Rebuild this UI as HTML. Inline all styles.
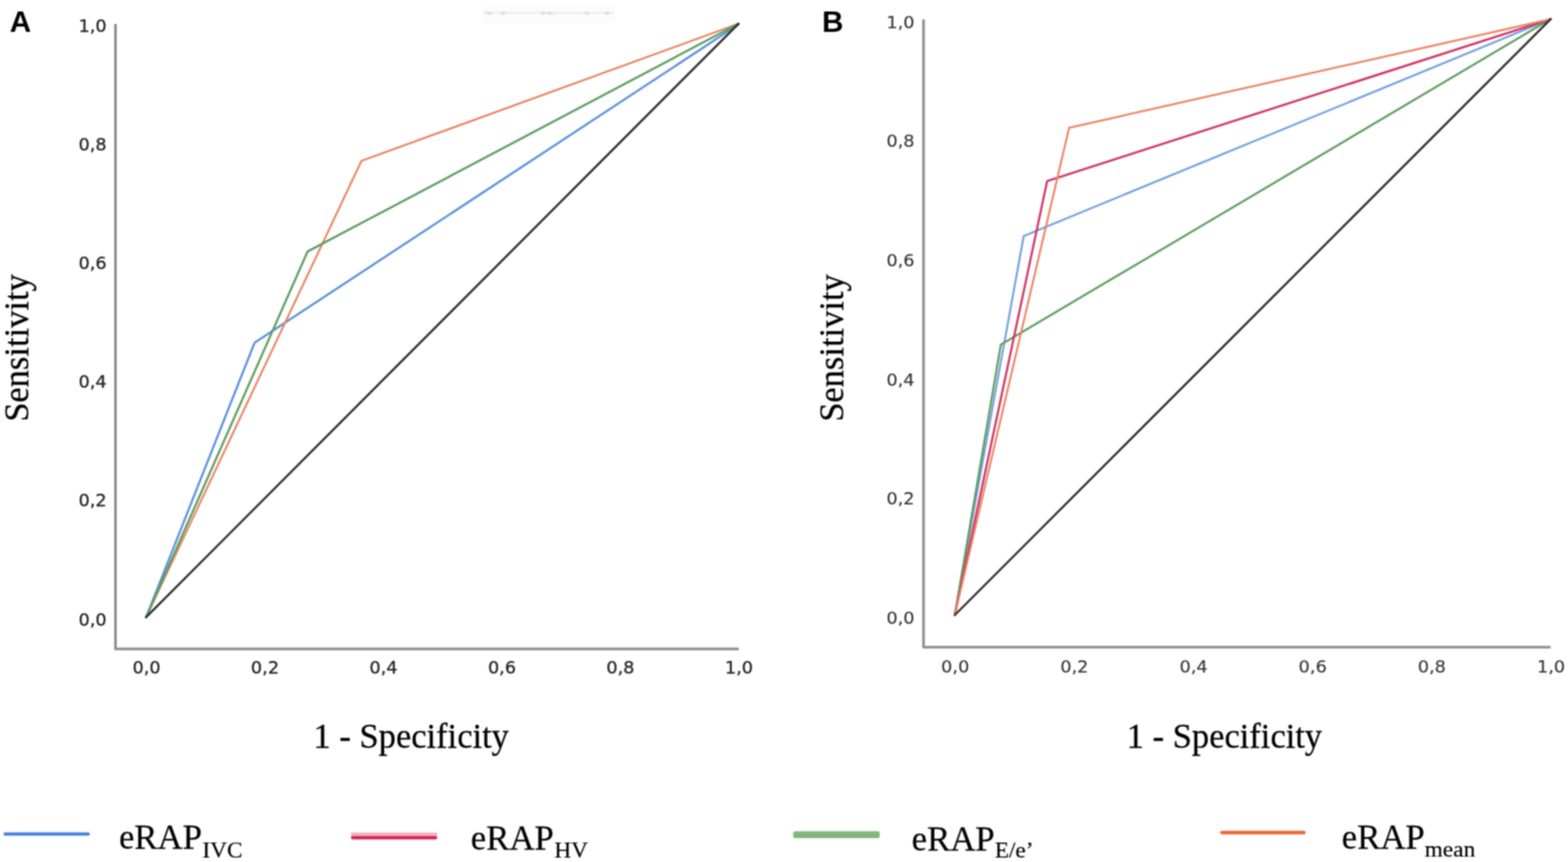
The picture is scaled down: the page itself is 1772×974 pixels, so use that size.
<!DOCTYPE html>
<html><head><meta charset="utf-8"><title>ROC curves</title>
<style>
html,body{margin:0;padding:0;background:#fff;}
body{width:1772px;height:974px;overflow:hidden;position:relative;}
svg{position:absolute;left:0;top:0;display:block;}
.tk{font-family:"DejaVu Sans",sans-serif;font-size:20px;fill:#222222;stroke:#222222;stroke-width:0.3px;}
.tkb{fill:#333;stroke:#333;stroke-width:0.15px;}
.ti{font-family:"Liberation Serif",serif;font-size:40px;fill:#000;stroke:#000;stroke-width:0.3px;}
.lg{font-family:"Liberation Serif",serif;font-size:40.3px;fill:#000;stroke:#000;stroke-width:0.25px;}
.sb{font-family:"Liberation Serif",serif;font-size:25.2px;fill:#000;stroke:#000;stroke-width:0.2px;}
.pl{font-family:"Liberation Sans",sans-serif;font-size:33.5px;font-weight:bold;fill:#000;}
</style></head>
<body>
<svg width="1772" height="974" viewBox="0 0 1772 974">
<defs><filter id="soft" filterUnits="userSpaceOnUse" x="0" y="0" width="1772" height="974" color-interpolation-filters="sRGB"><feConvolveMatrix order="3" kernelMatrix="0.0625 0.125 0.0625 0.125 0.25 0.125 0.0625 0.125 0.0625" edgeMode="duplicate" preserveAlpha="false"/></filter></defs>
<g filter="url(#soft)">
<rect x="0" y="0" width="1772" height="974" fill="#fff"/>
<rect x="546" y="8" width="149" height="18" fill="#fbfbfb"/>
<g fill="#d4d4d4" opacity="0.8">
<rect x="546" y="13.5" width="148" height="2.2" fill="#eaeaea"/>
<ellipse cx="553" cy="14.7" rx="3.2" ry="1.6"/><ellipse cx="568.5" cy="14.7" rx="3" ry="1.5"/>
<ellipse cx="613.7" cy="14.7" rx="3" ry="1.5"/><ellipse cx="621.6" cy="14.7" rx="3" ry="1.5"/>
<ellipse cx="663.3" cy="14.7" rx="3" ry="1.5"/><ellipse cx="686" cy="14.7" rx="3" ry="1.5"/>
</g>
<text x="11" y="35.5" class="pl">A</text>
<text x="929" y="35.8" class="pl">B</text>
<g>
<path d="M130.5 27 L130.5 733.3 L835.0 733.3" fill="none" stroke="#8e8e8e" stroke-width="3" stroke-linejoin="round" stroke-linecap="butt"/>
<text x="120.5" y="706.5" text-anchor="end" class="tk">0,0</text>
<text x="165.6" y="761" text-anchor="middle" class="tk">0,0</text>
<text x="120.5" y="572.4" text-anchor="end" class="tk">0,2</text>
<text x="299.5" y="761" text-anchor="middle" class="tk">0,2</text>
<text x="120.5" y="438.3" text-anchor="end" class="tk">0,4</text>
<text x="433.4" y="761" text-anchor="middle" class="tk">0,4</text>
<text x="120.5" y="304.1" text-anchor="end" class="tk">0,6</text>
<text x="567.3" y="761" text-anchor="middle" class="tk">0,6</text>
<text x="120.5" y="170.0" text-anchor="end" class="tk">0,8</text>
<text x="701.2" y="761" text-anchor="middle" class="tk">0,8</text>
<text x="120.5" y="35.9" text-anchor="end" class="tk">1,0</text>
<text x="835.1" y="761" text-anchor="middle" class="tk">1,0</text>
<path d="M165.1 697.4 L287.7 387.2 L834.6 27.6" fill="none" stroke="#5b8fdd" stroke-width="2.4" stroke-linejoin="round" stroke-linecap="round"/>
<path d="M165.1 697.4 L408.5 181.8 L834.6 26.8" fill="none" stroke="#e98261" stroke-width="2.2" stroke-linejoin="round" stroke-linecap="round"/>
<path d="M165.1 697.4 L347.7 284.1 L834.6 26.8" fill="none" stroke="#5c9c5e" stroke-width="2.4" stroke-linejoin="round" stroke-linecap="round"/>
<path d="M165.1 697.4 L834.6 26.8" fill="none" stroke="#2c2c2c" stroke-width="2.4" stroke-linejoin="round" stroke-linecap="round"/>
<text transform="translate(31.7 393.2) rotate(-90) scale(0.975 1)" text-anchor="middle" class="ti">Sensitivity</text>
<text transform="translate(354.3 845.1) scale(0.9745 1)" class="ti">1 - Specificity</text>
</g>
<g>
<path d="M1043.7 22 L1043.7 731.2 L1752.4 731.2" fill="none" stroke="#8e8e8e" stroke-width="3" stroke-linejoin="round" stroke-linecap="butt"/>
<text x="1033.5" y="704.9" text-anchor="end" class="tk tkb">0,0</text>
<text x="1079.5" y="760" text-anchor="middle" class="tk tkb">0,0</text>
<text x="1033.5" y="570.2" text-anchor="end" class="tk tkb">0,2</text>
<text x="1214.2" y="760" text-anchor="middle" class="tk tkb">0,2</text>
<text x="1033.5" y="435.5" text-anchor="end" class="tk tkb">0,4</text>
<text x="1348.9" y="760" text-anchor="middle" class="tk tkb">0,4</text>
<text x="1033.5" y="300.9" text-anchor="end" class="tk tkb">0,6</text>
<text x="1483.5" y="760" text-anchor="middle" class="tk tkb">0,6</text>
<text x="1033.5" y="166.2" text-anchor="end" class="tk tkb">0,8</text>
<text x="1618.2" y="760" text-anchor="middle" class="tk tkb">0,8</text>
<text x="1033.5" y="31.5" text-anchor="end" class="tk tkb">1,0</text>
<text x="1752.9" y="760" text-anchor="middle" class="tk tkb">1,0</text>
<path d="M1079.0 695.0 L1156.9 266.7 L1752.4 21.6" fill="none" stroke="#6f9ce2" stroke-width="2.2" stroke-linejoin="round" stroke-linecap="round"/>
<path d="M1079.0 695.0 L1131.0 389.5 L1752.4 21.6" fill="none" stroke="#5c9c5e" stroke-width="2.3" stroke-linejoin="round" stroke-linecap="round"/>
<path d="M1079.0 695.0 L1183.4 204.6 L1752.4 21.6" fill="none" stroke="#cf3262" stroke-width="2.4" stroke-linejoin="round" stroke-linecap="round"/>
<path d="M1079.0 695.0 L1208.2 144.4 L1752.4 21.6" fill="none" stroke="#e98261" stroke-width="2.2" stroke-linejoin="round" stroke-linecap="round"/>
<path d="M1079.0 695.0 L1752.4 21.6" fill="none" stroke="#2c2c2c" stroke-width="2.4" stroke-linejoin="round" stroke-linecap="round"/>
<text transform="translate(953.2 393.2) rotate(-90) scale(0.975 1)" text-anchor="middle" class="ti">Sensitivity</text>
<text transform="translate(1273.3 845.1) scale(0.9745 1)" class="ti">1 - Specificity</text>
</g>
<g>
<rect x="4" y="940.6" width="97.6" height="3.6" rx="1.8" fill="#4683dd"/>
<text transform="translate(134.4 959.2) scale(0.975 1)" class="lg">eRAP</text>
<text transform="translate(228.8 969.3) scale(1.045 1)" class="sb">IVC</text>
<rect x="396.6" y="940.6" width="97.5" height="4" fill="#f0b5c5"/>
<rect x="396.6" y="944.5" width="97.5" height="4" rx="2.0" fill="#d7254f"/>
<text transform="translate(532.1 959.9) scale(0.975 1)" class="lg">eRAP</text>
<text transform="translate(626.4 969.4) scale(1.045 1)" class="sb">HV</text>
<rect x="896.4" y="939.3" width="97.7" height="7.8" rx="2" fill="#82b77e"/>
<text transform="translate(1030.3 960.6) scale(0.975 1)" class="lg">eRAP</text>
<text transform="translate(1124.2 969.4) scale(1.045 1)" class="sb">E/e’</text>
<rect x="1378.9" y="938.7" width="96.6" height="4" rx="2.0" fill="#ef6534"/>
<text transform="translate(1516.3 959.0) scale(0.975 1)" class="lg">eRAP</text>
<text transform="translate(1610.1 968.1) scale(1.045 1)" class="sb">mean</text>
</g>
</g>
</svg>
</body></html>
